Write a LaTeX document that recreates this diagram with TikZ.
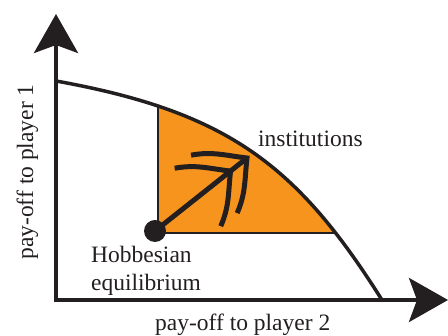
\documentclass[tikz,border=0pt]{standalone}
\usepackage{fontspec}
\setmainfont{Liberation Serif}
\usetikzlibrary{arrows.meta}
\definecolor{ink}{HTML}{231F20}
\definecolor{orng}{HTML}{F7941D}
\begin{document}
\begin{tikzpicture}[x=1pt,y=1pt,
  lbl/.style={inner sep=0, font=\fontsize{23.5}{28}\selectfont, text=ink, anchor=base west},
  axis/.style={line width=4pt, draw=ink, {Stealth[length=39pt,width=44pt,inset=8pt]}-{Stealth[length=39pt,width=44pt,inset=8pt]}, line join=miter},
  frontier/.style={line width=3.5pt, draw=ink},
  edgeline/.style={line width=1.5pt, draw=ink},
  barb/.style={line width=5pt, draw=ink, line cap=butt, line join=miter, miter limit=4}]
\useasboundingbox (0,0) rectangle (448,336);
\coordinate (ytip) at (56,322);
\coordinate (origin) at (56,36);
\coordinate (xtip) at (448,36);
\coordinate (f0) at (56,255);
\coordinate (f1) at (382,36);
\coordinate (corner) at (158,103);
\begin{scope}
  \clip (f0) .. controls (228,224) and (297,171) .. (f1) -- (origin) -- cycle;
  \fill[orng] (corner) rectangle (448,336);
  \draw[edgeline] (corner) -- (158,336);
  \draw[edgeline] (corner) -- (448,103);
\end{scope}
\draw[frontier] (f0) .. controls (228,224) and (297,171) .. (f1);
\draw[axis] (ytip) -- (origin) -- (xtip);
\node[circle, fill=ink, inner sep=0, minimum size=22pt] (hob) at (155,105) {};
\coordinate (tip) at (247,178);
\draw[line width=5pt, draw=ink] (hob.center) -- (tip);
\begin{scope}[shift={(tip)}, rotate=38.5]
  \foreach \d in {0,-21} \draw[barb] (\d-42,37) to[out=-28,in=135] (\d,0) to[out=-135,in=28] (\d-42,-37);
\end{scope}
\node[lbl] (inst) at (258,189) {institutions};
\node[lbl] (hobl) at (91,73) {Hobbesian};
\node[lbl] (equi) at (91,45) {equilibrium};
\node[lbl] (xl) at (155,5) {pay-off to player 2};
\node[lbl, rotate=90, anchor=base] (yl) at (33,164) {pay-off to player 1};
\end{tikzpicture}
\end{document}
